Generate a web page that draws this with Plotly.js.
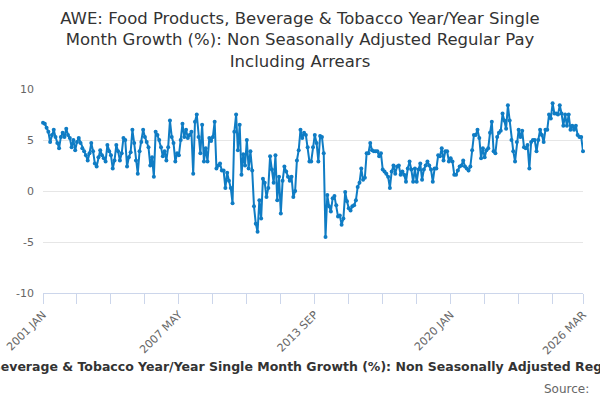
<!DOCTYPE html>
<html>
<head>
<meta charset="utf-8">
<script src="https://cdn.plot.ly/plotly-3.0.1.min.js"></script>
<style>
  html, body { margin: 0; padding: 0; background: #fff; }
  #chart { width: 600px; height: 400px; }
</style>
</head>
<body>
<div id="chart"></div>
<script>
// serie mensual 2001 JAN .. 2026 MAR (303 meses)
const startYear = 2001;
const monthNames = ['JAN','FEB','MAR','APR','MAY','JUN','JUL','AUG','SEP','OCT','NOV','DEC'];

// 2001 JAN - 2007 OCT
const growth2001 = [
  6.7, 6.6, 6.2, 5.8, 4.8, 5.5, 6.0, 5.3, 4.7, 4.2,
  5.3, 5.7, 5.3, 6.1, 5.5, 5.2, 4.3, 5.0, 4.0, 4.8,
  5.2, 4.7, 4.2, 3.9, 3.5, 3.0, 3.7, 4.7, 3.9, 2.7,
  2.4, 3.3, 4.0, 3.5, 3.2, 2.9, 4.5, 3.9, 3.5, 2.2,
  3.0, 4.5, 3.9, 3.0, 3.7, 5.2, 5.0, 2.4, 3.3, 3.8,
  6.0, 4.7, 3.0, 1.7, 3.9, 4.8, 6.0, 5.3, 4.8, 4.3,
  2.5, 3.3, 1.4, 5.8, 5.5, 5.0, 4.3, 3.4, 3.9, 3.0,
  4.3, 6.9, 5.3, 4.7, 2.9, 3.7, 3.5, 5.0, 6.6, 5.3,
  6.0, 5.2
];
// 2007 NOV - 2013 OCT
const growth2007 = [
  5.5, 5.8, 1.7, 6.8, 7.5, 5.3, 3.7, 6.5, 2.9, 4.2,
  2.9, 5.2, 4.9, 5.3, 6.8, 2.2, 2.5, 2.7, 2.0, 2.0,
  0.3, 1.8, 1.0, 0.3, -1.2, 5.8, 7.5, 4.0, 6.5, 1.6,
  3.6, 2.5, 5.0, 2.2, 3.9, 2.0, -1.5, -3.2, -4.0, -0.9,
  -2.7, 1.2, 0.8, -0.6, 0.3, 3.4, 2.1, 0.8, 3.5, -0.9,
  1.4, -2.2, 1.0, 2.4, 1.9, 1.4, 1.0, 1.4, -0.6, 0.0,
  3.0, 4.0, 6.0, 5.2, 5.7, 5.5, 4.3, 2.9, 2.9, 4.3,
  5.5, 4.7
];
// 2013 NOV - 2019 JUL
const growth2013 = [
  2.9, 5.4, 5.3, 3.7, -4.5, -0.4, -1.5, -2.0, -0.7, -0.5,
  -1.4, -2.5, -2.4, -3.3, -2.7, -0.1, -1.0, -1.7, -1.9, -1.5,
  -1.4, -0.9, 0.4, 0.8, 2.2, 1.1, 1.3, 3.7, 3.7, 4.7,
  4.0, 3.9, 3.9, 3.9, 3.4, 3.7, 2.1, 1.9, 1.7, 1.4,
  0.3, 1.9, 2.5, 1.7, 2.4, 2.5, 1.6, 1.9, 1.6, 0.9,
  2.2, 2.9, 2.1, 0.9, 2.2, 0.9, 2.1, 2.7, 1.1, 2.1,
  2.5, 2.9, 2.5, 2.1, 0.9, 2.2, 2.2, 3.5, 3.4
];
// 2019 AUG - 2026 MAR
const growth2019 = [
  4.2, 3.0, 3.9, 3.9, 2.9, 3.2, 2.9, 1.6, 1.6, 2.0,
  2.4, 2.5, 3.0, 2.4, 2.2, 2.0, 2.4, 4.0, 5.5, 5.5,
  6.0, 5.2, 3.2, 4.2, 3.3, 4.0, 4.2, 5.7, 6.8, 3.9,
  3.7, 5.3, 5.7, 5.9, 7.6, 6.9, 6.1, 8.4, 6.9, 5.0,
  3.9, 2.9, 4.8, 6.0, 5.3, 5.9, 4.3, 4.2, 4.5, 2.2,
  4.8, 5.0, 5.0, 3.9, 5.0, 6.0, 5.5, 4.8, 6.0, 6.0,
  7.5, 7.1, 8.6, 7.6, 7.6, 7.5, 8.4, 7.6, 6.4, 7.5,
  6.4, 7.5, 6.0, 6.4, 6.0, 6.4, 5.5, 5.3, 5.3, 3.9
];

const tickLabels = ['2001 JAN', '2007 MAY', '2013 SEP', '2020 JAN', '2026 MAR'];
const yTicks = [-10, -5, 0, 5, 10];

const seriesName = 'AWE: Food Products, Beverage & Tobacco Year/Year Single Month Growth (%): Non Seasonally Adjusted Regular Pay Including Arrears';

let values = growth2001.concat(growth2007, growth2013, growth2019);
let months = values.map(function (v, i) {
    return (startYear + Math.floor(i / 12)) + ' ' + monthNames[i % 12];
});

// marcas menores cada 19 meses, y la ultima
let tickEvery = 19;
let tickVals = [];
for (let i = 0; i < months.length; i += tickEvery) tickVals.push(months[i]);
if (tickVals[tickVals.length - 1] !== months[months.length - 1]) tickVals.push(months[months.length - 1]);
let tickText = tickVals.map(function (m) { return tickLabels.indexOf(m) >= 0 ? m : ''; });

let font = 'DejaVu Sans, Verdana, sans-serif';

Plotly.newPlot('chart', [{
    x: months,
    y: values,
    type: 'scatter',
    mode: 'lines+markers',
    line: { color: '#0f7cc4', width: 2 },
    marker: { color: '#0f7cc4', size: 4 },
    cliponaxis: false,
    hoverinfo: 'x+y'
}], {
    width: 600,
    height: 400,
    margin: { l: 43, r: 17, t: 89, b: 107 },
    paper_bgcolor: '#fff',
    plot_bgcolor: '#fff',
    showlegend: false,
    font: { family: font, color: '#666', size: 11 },
    title: {
        text: 'AWE: Food Products, Beverage & Tobacco Year/Year Single<br>Month Growth (%): Non Seasonally Adjusted Regular Pay<br>Including Arrears',
        font: { family: font, size: 16.5, color: '#333' },
        xref: 'container', x: 0.5, xanchor: 'center',
        yref: 'container', y: 0.94, yanchor: 'top'
    },
    xaxis: {
        type: 'category',
        range: [0, months.length - 1],
        tickmode: 'array',
        tickvals: tickVals,
        ticktext: tickText,
        tickangle: -45,
        ticks: 'outside',
        ticklen: 10,
        tickcolor: '#ccd6eb',
        showline: true,
        linecolor: '#ccd6eb',
        linewidth: 1,
        showgrid: false,
        zeroline: false,
        tickfont: { family: font, size: 11, color: '#666' },
        title: {
            text: seriesName,
            font: { family: font, size: 12.5, color: '#333', weight: 'bold' }
        }
    },
    yaxis: {
        range: [-10, 10],
        tickmode: 'array',
        tickvals: yTicks,
        ticktext: yTicks.map(String),
        ticks: '',
        showgrid: true,
        gridcolor: '#e6e6e6',
        zeroline: false,
        showline: false,
        ticklabelstandoff: 8,
        tickfont: { family: font, size: 11, color: '#666' }
    },
    annotations: [{
        text: 'Source: ',
        xref: 'paper', x: 1, xanchor: 'right', xshift: 12,
        yref: 'paper', y: -0.47, yanchor: 'middle',
        showarrow: false,
        font: { family: font, size: 12, color: '#666' }
    }]
}, { displayModeBar: false, staticPlot: true });
</script>
</body>
</html>
